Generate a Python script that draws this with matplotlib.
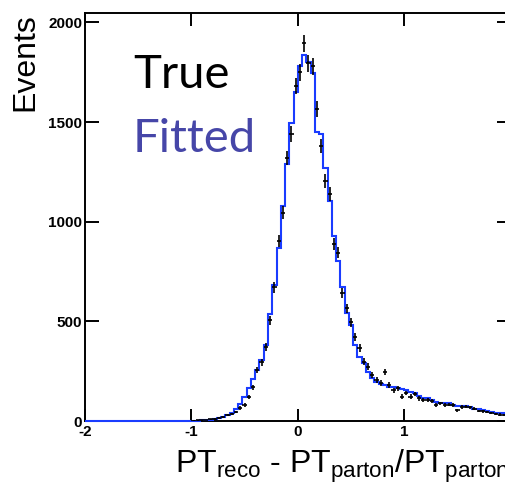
import numpy as np
import matplotlib
matplotlib.use("Agg")
import matplotlib.pyplot as plt

plt.rcParams["axes.unicode_minus"] = False
plt.rcParams["mathtext.fontset"] = "custom"
plt.rcParams["mathtext.rm"] = "Liberation Sans"
plt.rcParams["mathtext.it"] = "Liberation Sans:italic"
plt.rcParams["mathtext.bf"] = "Liberation Sans:bold"

# Histogram binning: 100 bins over [-2, 2]
bin_edges = np.linspace(-2.0, 2.0, 101)

# Fitted distribution (bin contents)
fitted_counts = [0] * 25 + [
    1, 2, 3, 5, 7, 10, 14, 20, 30, 42,
    60, 85, 120, 165, 210, 255, 305, 380, 535, 680,
    870, 1080, 1290, 1495, 1650, 1780, 1835, 1800, 1745, 1450,
    1440, 1270, 1105, 930, 805, 670, 540, 480, 380, 320,
    290, 245, 215, 195, 185, 180, 172, 170, 165, 160,
    155, 148, 140, 125, 117, 115, 105, 95, 92, 90,
    88, 80, 76, 75, 73, 68, 60, 58, 56, 52,
    45, 42, 40, 40, 38,
]

# True distribution (bin contents)
true_counts = [0] * 25 + [
    2, 3, 4, 5, 8, 10, 15, 20, 28, 35,
    45, 65, 80, 120, 170, 255, 295, 370, 505, 670,
    905, 1045, 1320, 1440, 1680, 1750, 1895, 1795, 1780, 1565,
    1380, 1205, 1140, 890, 845, 640, 565, 495, 420, 365,
    297, 272, 230, 205, 190, 247, 180, 155, 165, 122,
    140, 122, 135, 113, 105, 105, 98, 80, 88, 80,
    82, 80, 55, 70, 72, 68, 62, 50, 48, 45,
    40, 35, 32, 30, 25,
]

x_ticks = [-2, -1, 0, 1, 2]
x_tick_labels = ["-2", "-1", "0", "1", "2"]
y_ticks = [0, 500, 1000, 1500, 2000]
y_tick_labels = ["0", "500", "1000", "1500", "2000"]

W, H = 506, 490
fig = plt.figure(figsize=(W / 100, H / 100), dpi=100)
ax = fig.add_axes([85 / W, 69 / H, 425.6 / W, 408 / H])

fitted = np.asarray(fitted_counts, dtype=float)
true = np.asarray(true_counts, dtype=float)
centers = 0.5 * (bin_edges[:-1] + bin_edges[1:])
half_w = 0.5 * np.diff(bin_edges)

# Fitted histogram as a step outline
ax.stairs(fitted, bin_edges, color="#1a3cff", lw=1.5, zorder=4, clip_on=False)

# True values as crosses with statistical error bars
mask = true > 0
ax.errorbar(centers[mask], true[mask], yerr=np.sqrt(true[mask]), xerr=half_w[mask],
            fmt="none", ecolor="black", elinewidth=1.2, capsize=0, zorder=5)

ax.set_xlim(-2, 2)
ax.set_ylim(0, 2047)

for s in ax.spines.values():
    s.set_linewidth(1.4)

ax.set_xticks(x_ticks)
ax.set_xticklabels(x_tick_labels)
ax.set_yticks(y_ticks)
ax.set_yticklabels(y_tick_labels)
ax.tick_params(axis="both", which="major", direction="in", top=True, right=True,
               width=1.4, labelsize=11)
ax.tick_params(axis="y", length=10, pad=2)
ax.tick_params(axis="x", length=9, pad=3)
for lab in ax.get_xticklabels() + ax.get_yticklabels():
    lab.set_fontfamily("Liberation Sans")
    lab.set_fontweight("bold")

# Axis titles
fig.text(25 / W, 1 - 13 / H, "Events", rotation=90, ha="center", va="top",
         fontsize=23, family="Liberation Sans")
fig.text(175 / W, 1 - 473 / H,
         r"PT$_{\mathrm{reco}}$ - PT$_{\mathrm{parton}}$/PT$_{\mathrm{parton}}$",
         ha="left", va="baseline", fontsize=23, family="Liberation Sans")

# Series labels
ax.text(133 / W, 1 - 88 / H, "True", transform=fig.transFigure, ha="left",
        va="baseline", fontsize=34, family="Lato", color="black")
ax.text(133 / W, 1 - 152 / H, "Fitted", transform=fig.transFigure, ha="left",
        va="baseline", fontsize=34, family="Lato", color="#4646a8")

fig.savefig("out.png", dpi=100)
